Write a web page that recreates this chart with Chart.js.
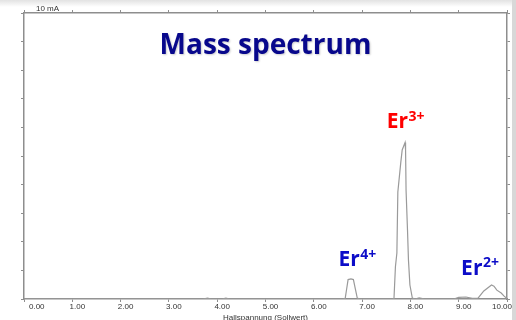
<!DOCTYPE html>
<html>
<head>
<meta charset="utf-8">
<script src="https://cdn.jsdelivr.net/npm/chart.js@4.4.1/dist/chart.umd.min.js"></script>
<style>
    html, body { margin: 0; padding: 0; }
    body {
        width: 516px;
        height: 320px;
        overflow: hidden;
        background: linear-gradient(#e2e2e2, #ffffff 7px);
    }
    #wrap {
        position: relative;
        width: 516px;
        height: 320px;
        box-shadow: inset -4px 0 0 #d8d8d8;
    }
</style>
</head>
<body>
<div id="wrap"><canvas id="ms-chart" width="516" height="320"></canvas></div>
<script>
// 横轴：霍尔电压 (V)
const voltage = [0.00, 3.70, 3.80, 3.88, 4.10, 4.18, 4.26, 6.60, 6.65, 6.68, 6.71, 6.77, 6.82, 6.86, 6.90, 6.95,
    7.62, 7.66, 7.69, 7.72, 7.74, 7.80, 7.83, 7.89, 7.90, 7.91, 7.94, 7.96, 7.99, 8.04, 8.10, 8.18, 8.30,
    8.90, 9.00, 9.15, 9.28, 9.40, 9.52, 9.68, 9.73, 9.79, 9.88, 9.94, 10.00];

// 纵轴：离子电流 (mA)
const current = [0, 0, 0.03, 0, 0, 0.03, 0, 0, 0.02, 0.35, 0.68, 0.70, 0.68, 0.35, 0.03, 0,
    0, 0.02, 1.13, 1.61, 3.74, 4.76, 5.21, 5.47, 5.21, 3.81, 2.41, 1.36, 0.49, 0.03, 0, 0.04, 0,
    0, 0.06, 0.07, 0.02, 0.03, 0.28, 0.49, 0.45, 0.31, 0.21, 0.10, 0.02];

// 峰标注
const ionNames = ['Er', 'Er', 'Er'];
const ionCharges = ['4+', '3+', '2+'];
const ionAnchorV = [6.51, 7.51, 9.05];
const ionAnchorI = [1.15, 5.97, 0.84];
const ionColors = ['#0c0cc8', '#ff0000', '#0c0cc8'];

const chartTitle = 'Mass spectrum';
const yUnitLabel = '10 mA';
const xAxisTitle = 'Hallspannung (Sollwert)';

const axisColor = '#8e8e8e';

// 标注插件：标题 + 离子标签
const annotatePlugin = {
    id: 'annotate',
    afterDraw(chart) {
        const ctx = chart.ctx;
        const xs = chart.scales.x;
        const ys = chart.scales.y;
        const area = chart.chartArea;

        ctx.save();

        // 纵轴单位
        ctx.font = '8px "Liberation Sans", Arial, sans-serif';
        ctx.fillStyle = '#333';
        ctx.textBaseline = 'middle';
        ctx.textAlign = 'left';
        ctx.fillText(yUnitLabel, 36, 9);

        // 标题
        ctx.font = 'bold 28px "Open Sans", sans-serif';
        ctx.textAlign = 'center';
        ctx.textBaseline = 'alphabetic';
        ctx.shadowColor = 'rgba(0, 0, 0, 0.2)';
        ctx.shadowBlur = 2;
        ctx.shadowOffsetX = 1;
        ctx.shadowOffsetY = 1.5;
        ctx.fillStyle = '#08088c';
        ctx.fillText(chartTitle, (area.left + area.right) / 2, ys.getPixelForValue(8.58));
        ctx.shadowColor = 'transparent';

        // 离子标签
        ctx.textAlign = 'left';
        ionNames.forEach((name, i) => {
            const px = xs.getPixelForValue(ionAnchorV[i]);
            const py = ys.getPixelForValue(ionAnchorI[i]);
            ctx.fillStyle = ionColors[i];
            ctx.font = 'bold 21px "Open Sans", sans-serif';
            ctx.fillText(name, px, py);
            const w = ctx.measureText(name).width;
            ctx.font = 'bold 14px "Open Sans", sans-serif';
            ctx.fillText(ionCharges[i], px + w + 0.5, py - 7.5);
        });

        ctx.restore();
    }
};

function createSpectrumChart() {
    const canvas = document.getElementById('ms-chart');

    // 数据集
    const data = {
        datasets: [{
            label: 'Ionenstrom',
            data: voltage.map((v, i) => ({ x: v, y: current[i] })),
            borderColor: '#9a9a9a',
            borderWidth: 1.2,
            pointRadius: 0,
            tension: 0,
            fill: false
        }]
    };

    // 公共轴样式
    const gridOpts = {
        drawOnChartArea: false,
        drawTicks: true,
        tickLength: 3,
        tickColor: axisColor,
        tickWidth: 1
    };
    const borderOpts = { display: true, color: axisColor, width: 1.5 };

    // 配置选项
    const options = {
        responsive: false,
        animation: false,
        layout: { padding: 0 },
        scales: {
            x: {
                type: 'linear',
                position: 'bottom',
                min: 0,
                max: 10,
                grid: gridOpts,
                border: borderOpts,
                ticks: {
                    stepSize: 1,
                    align: 'inner',
                    labelOffset: 5,
                    padding: 0,
                    color: '#333',
                    font: { family: '"Liberation Sans", Arial, sans-serif', size: 8 },
                    callback: v => v.toFixed(2)
                },
                title: {
                    display: true,
                    text: xAxisTitle,
                    color: '#333',
                    font: { family: '"Liberation Sans", Arial, sans-serif', size: 8 },
                    padding: { top: 0, bottom: -3 }
                },
                afterFit: s => { s.height = 21; }
            },
            x2: {
                type: 'linear',
                position: 'top',
                min: 0,
                max: 10,
                grid: gridOpts,
                border: borderOpts,
                ticks: { stepSize: 1, display: false },
                afterFit: s => { s.height = 13; }
            },
            y: {
                type: 'linear',
                position: 'left',
                min: 0,
                max: 10,
                grid: gridOpts,
                border: borderOpts,
                ticks: { stepSize: 1, display: false },
                afterFit: s => { s.width = 24; }
            },
            y2: {
                type: 'linear',
                position: 'right',
                min: 0,
                max: 10,
                grid: gridOpts,
                border: borderOpts,
                ticks: { stepSize: 1, display: false },
                afterFit: s => { s.width = 9; }
            }
        },
        plugins: {
            legend: { display: false },
            title: { display: false },
            tooltip: { enabled: false }
        }
    };

    // 创建图表
    window.msChart = new Chart(canvas, {
        type: 'line',
        data: data,
        options: options,
        plugins: [annotatePlugin]
    });
}

createSpectrumChart();
</script>
</body>
</html>
